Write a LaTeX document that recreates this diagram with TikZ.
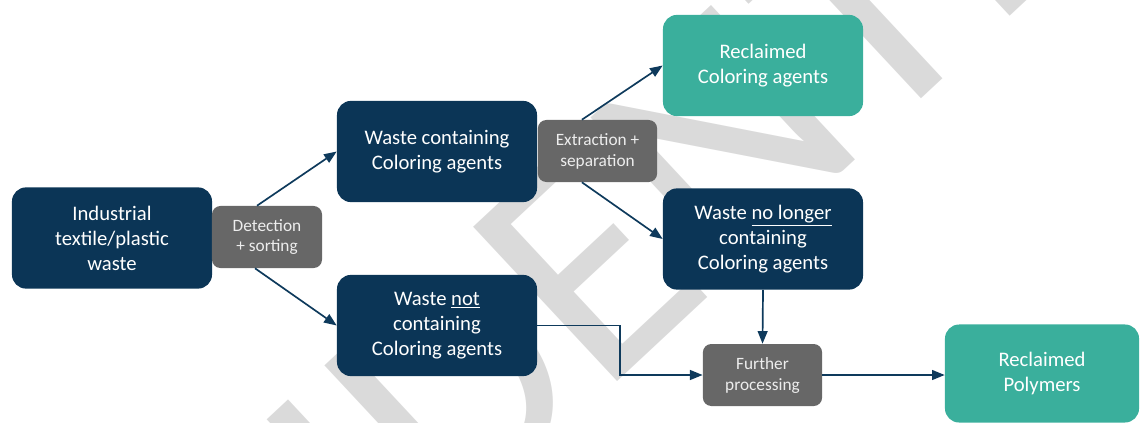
\documentclass[tikz,border=0pt]{standalone}
\usepackage{fontspec}
\setmainfont{Carlito}
\usetikzlibrary{arrows.meta}
\definecolor{wastefill}{HTML}{0B3556}
\definecolor{reclaimfill}{HTML}{3AAF9C}
\definecolor{stepfill}{HTML}{676767}
\definecolor{flowline}{HTML}{0E3A5C}
\definecolor{stampgray}{HTML}{DADADA}

\tikzset{
  bigbox/.style={rounded corners=10pt, text=white, align=center, inner sep=0pt,
    minimum width=5cm, minimum height=2.53cm, font=\fontsize{14.7}{17.8}\selectfont},
  waste/.style={bigbox, fill=wastefill},
  reclaim/.style={bigbox, fill=reclaimfill},
  stepbox/.style={rounded corners=6pt, fill=stepfill, text=white!93!black, align=center,
    inner sep=0pt, minimum height=1.55cm, font=\fontsize{12.3}{14.9}\selectfont},
  flow/.style={draw=flowline, line width=1.2pt, -{Triangle[length=9pt,width=7pt]}},
}

\begin{document}
\begin{tikzpicture}[x=0.025cm, y=-0.025cm]
  \useasboundingbox (0,0) rectangle (1141,422);
  % watermark behind everything
  \begin{scope}
    \clip (0,0) rectangle (1141,422);
    \node[anchor=base west, rotate=43, inner sep=0pt, text=stampgray,
      font=\fontsize{234}{234}\selectfont] (stamp) at (-160,1107) {CONFIDENTIAL};
  \end{scope}

  \node[waste] (raw) at (112,238) {Industrial\\textile/plastic\\waste};
  \node[stepbox, minimum width=2.75cm] (sort) at (267,237) {Detection\\+ sorting};
  \node[waste] (colored) at (437,151.5) {Waste containing\\Coloring agents};
  \node[waste] (plain) at (437,325.5) {Waste \underline{not}\\containing\\Coloring agents};
  \node[stepbox, minimum width=2.98cm] (extract) at (597.5,151) {Extraction +\\separation};
  \node[reclaim] (dyes) at (763,65.5) {Reclaimed\\Coloring agents};
  \node[waste] (stripped) at (763,239) {Waste \underline{no longer}\\containing\\Coloring agents};
  \node[stepbox, minimum width=2.98cm] (further) at (762.5,375) {Further\\processing};
  \node[reclaim, minimum width=4.85cm, minimum height=2.45cm] (polymers) at (1042,373.5) {Reclaimed\\Polymers};

  \draw[flow] ([xshift=-0.25cm]sort.north) -- (colored.west);
  \draw[flow] ([xshift=-0.3cm]sort.south) -- (plain.west);
  \draw[flow] ([xshift=-0.39cm]extract.north) -- (dyes.west);
  \draw[flow] ([xshift=-0.39cm]extract.south) -- (stripped.west);
  \draw[flow] (stripped.south) -- (further.north);
  \draw[flow] (plain.east) -- ++(83,0) |- (further.west);
  \draw[flow] (further.east) -- (further.east -| polymers.west);
\end{tikzpicture}
\end{document}
